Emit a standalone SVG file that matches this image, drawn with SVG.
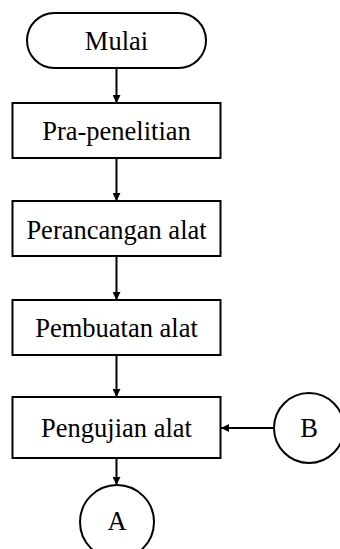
<svg xmlns="http://www.w3.org/2000/svg" width="340" height="549" viewBox="0 0 340 549">
<style>
.s{fill:#fff;stroke:#000;stroke-width:2}
.t{font-family:"Liberation Serif","Times New Roman",serif;font-size:26.5px;fill:#000;text-anchor:middle}
.c{fill:none;stroke:#000;stroke-width:2}
</style>
<defs>
<marker id="ah" viewBox="0 0 10 10" refX="10" refY="5" markerWidth="8" markerHeight="8" markerUnits="userSpaceOnUse" orient="auto">
<path d="M0,0 L10,5 L0,10 z" fill="#000"/>
</marker>
</defs>
<rect width="340" height="549" fill="#fff"/>
<g id="connectors">
<line class="c" x1="116.5" y1="68" x2="116.5" y2="103" marker-end="url(#ah)"/>
<line class="c" x1="116.5" y1="158" x2="116.5" y2="201" marker-end="url(#ah)"/>
<line class="c" x1="116.5" y1="256" x2="116.5" y2="300" marker-end="url(#ah)"/>
<line class="c" x1="116.5" y1="355" x2="116.5" y2="397" marker-end="url(#ah)"/>
<line class="c" x1="116.5" y1="458" x2="116.5" y2="485" marker-end="url(#ah)"/>
<line class="c" x1="274" y1="428" x2="221" y2="428" marker-end="url(#ah)"/>
</g>
<g id="mulai">
<rect class="s" x="27" y="13" width="179" height="55" rx="27.5" ry="27.5"/>
<text class="t" x="116.5" y="49.5">Mulai</text>
</g>
<g id="pra">
<rect class="s" x="12.5" y="103" width="208" height="55"/>
<text class="t" x="116.5" y="140">Pra-penelitian</text>
</g>
<g id="perancangan">
<rect class="s" x="12.5" y="201" width="208" height="55"/>
<text class="t" x="116.5" y="238.5">Perancangan alat</text>
</g>
<g id="pembuatan">
<rect class="s" x="12.5" y="300" width="208" height="55"/>
<text class="t" x="116.5" y="337">Pembuatan alat</text>
</g>
<g id="pengujian">
<rect class="s" x="12.5" y="397" width="208" height="61"/>
<text class="t" x="116.5" y="436.5">Pengujian alat</text>
</g>
<g id="A">
<circle class="s" cx="117" cy="522" r="37"/>
<text class="t" x="117" y="530">A</text>
</g>
<g id="B">
<circle class="s" cx="309" cy="428" r="35"/>
<text class="t" x="309" y="436.5">B</text>
</g>
</svg>
